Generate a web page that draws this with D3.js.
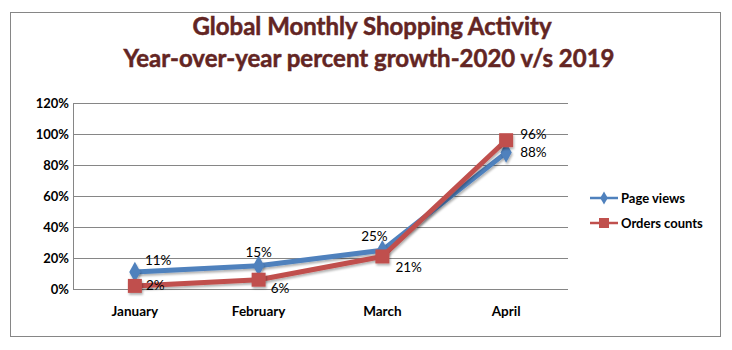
<!DOCTYPE html>
<html>
<head>
<meta charset="utf-8">
<script src="https://cdn.jsdelivr.net/npm/d3@7"></script>
<style>
  body { margin:0; background:#fff; }
  text { font-family: Lato, "Open Sans", sans-serif; }
</style>
</head>
<body>
<svg></svg>
<script>
var months = ["January","February","March","April"];
var pageViews = [11,15,25,88];
var orderCounts = [2,6,21,96];
var yTicks = [0,20,40,60,80,100,120];
var seriesNames = ["Page views","Orders counts"];

var screen = { width:732, height:350 };

var svg = d3.select("svg")
            .attr("width",screen.width)
            .attr("height",screen.height);

var defs = svg.append("defs");
var shadow = defs.append("filter").attr("id","shadow")
  .attr("x","-30%").attr("y","-30%").attr("width","160%").attr("height","160%");
shadow.append("feDropShadow")
  .attr("dx",1).attr("dy",2).attr("stdDeviation",1.2)
  .attr("flood-color","#000").attr("flood-opacity",0.3);

// outer frame
svg.append("rect")
   .attr("x",10.5).attr("y",12.5)
   .attr("width",710).attr("height",324)
   .attr("fill","#fff")
   .attr("stroke","#868686")
   .attr("stroke-width",1);

// title
var title = svg.append("g").attr("fill","#632523")
   .attr("font-weight","bold").attr("font-size",24)
   .attr("text-anchor","middle")
   .attr("stroke","#632523").attr("stroke-width",0.5);
title.append("text").attr("x",372).attr("y",35).text("Global Monthly Shopping Activity");
title.append("text").attr("x",369).attr("y",67).text("Year-over-year percent growth-2020 v/s 2019");

var margins = { top:103, left:73, right:568, bottom:289 };

var xScale = d3.scaleBand()
        .domain(months)
        .range([margins.left, margins.right]);
var yScale = d3.scaleLinear()
        .domain([0,120])
        .range([margins.bottom, margins.top]);

// gridlines
svg.append("g").selectAll("line")
   .data(yTicks)
   .enter()
   .append("line")
   .attr("x1",margins.left).attr("x2",margins.right)
   .attr("y1",function(d){return Math.round(yScale(d))+0.5;})
   .attr("y2",function(d){return Math.round(yScale(d))+0.5;})
   .attr("stroke","#868686");

svg.append("line")
   .attr("x1",margins.left+0.5).attr("x2",margins.left+0.5)
   .attr("y1",margins.top).attr("y2",margins.bottom)
   .attr("stroke","#868686");

// y axis labels
var yAxis = d3.axisLeft(yScale)
   .tickValues(yTicks)
   .tickSize(0).tickPadding(4)
   .tickFormat(function(d){return d+"%";});
var yG = svg.append("g")
   .attr("transform","translate("+margins.left+",0)")
   .call(yAxis);
yG.select(".domain").remove();
yG.selectAll("text").attr("font-size",13).attr("font-weight","bold")
   .attr("fill","#000").attr("font-family","Lato, sans-serif");

// x axis labels
var xAxis = d3.axisBottom(xScale).tickSize(0).tickPadding(17);
var xG = svg.append("g")
   .attr("transform","translate(0,"+margins.bottom+")")
   .call(xAxis);
xG.select(".domain").remove();
xG.selectAll("text").attr("font-size",13.5).attr("font-weight","bold")
   .attr("fill","#000").attr("font-family","Lato, sans-serif");

var cx = function(i){ return xScale(months[i]) + xScale.bandwidth()/2; };

var drawLine = d3.line()
   .x(function(d,i){return cx(i);})
   .y(function(d){return yScale(d);});

var diamond = d3.symbol().type(d3.symbolDiamond).size(110);

// page views
var pv = svg.append("g").attr("id","pageviews");
pv.append("path").datum(pageViews)
  .attr("d",drawLine).attr("fill","none")
  .attr("stroke","#4F81BD").attr("stroke-width",5)
  .attr("stroke-linejoin","round")
  .attr("filter","url(#shadow)");

// orders
var oc = svg.append("g").attr("id","orders");
oc.append("path").datum(orderCounts)
  .attr("d",drawLine).attr("fill","none")
  .attr("stroke","#C0504D").attr("stroke-width",5)
  .attr("stroke-linejoin","round")
  .attr("filter","url(#shadow)");

pv.selectAll(".mk").data(pageViews).enter()
  .append("path").attr("class","mk")
  .attr("d",diamond)
  .attr("transform",function(d,i){return "translate("+cx(i)+","+yScale(d)+") scale(1,1.05)";})
  .attr("fill","#4F81BD")
  .attr("filter","url(#shadow)");

oc.selectAll(".mk").data(orderCounts).enter()
  .append("rect").attr("class","mk")
  .attr("x",function(d,i){return cx(i)-7;})
  .attr("y",function(d){return yScale(d)-7;})
  .attr("width",14).attr("height",14)
  .attr("fill","#C0504D")
  .attr("filter","url(#shadow)");

// data labels
var pvOffsets = [[10,-7,"start"],[0,-9,"middle"],[-8,-9,"middle"],[14,4,"start"]];
var ocOffsets = [[11,4,"start"],[12,13,"start"],[13,16,"start"],[14,-1,"start"]];

pv.selectAll(".lbl").data(pageViews).enter()
  .append("text").attr("class","lbl")
  .attr("x",function(d,i){return cx(i)+pvOffsets[i][0];})
  .attr("y",function(d,i){return yScale(d)+pvOffsets[i][1];})
  .attr("text-anchor",function(d,i){return pvOffsets[i][2];})
  .attr("font-size",13.5).attr("fill","#000")
  .text(function(d){return d+"%";});

oc.selectAll(".lbl").data(orderCounts).enter()
  .append("text").attr("class","lbl")
  .attr("x",function(d,i){return cx(i)+ocOffsets[i][0];})
  .attr("y",function(d,i){return yScale(d)+ocOffsets[i][1];})
  .attr("text-anchor",function(d,i){return ocOffsets[i][2];})
  .attr("font-size",13.5).attr("fill","#000")
  .text(function(d){return d+"%";});

// legend
var legend = svg.append("g").attr("transform","translate(590,198)");
var legendLines = legend.selectAll("g")
   .data(seriesNames).enter()
   .append("g")
   .attr("transform",function(d,i){return "translate(0,"+(i*25)+")";});

legendLines.append("line")
   .attr("x1",0).attr("x2",28).attr("y1",0).attr("y2",0)
   .attr("stroke",function(d,i){return i==0?"#4F81BD":"#C0504D";})
   .attr("stroke-width",2.5);
legendLines.each(function(d,i){
  var g = d3.select(this);
  if(i==0){
    g.append("path").attr("d",d3.symbol().type(d3.symbolDiamond).size(50))
     .attr("transform","translate(14,0)").attr("fill","#4F81BD");
  } else {
    g.append("rect").attr("x",9).attr("y",-5).attr("width",10).attr("height",10)
     .attr("fill","#C0504D");
  }
});
legendLines.append("text")
   .attr("x",31).attr("y",4.5)
   .attr("font-size",13).attr("font-weight","bold")
   .text(function(d){return d;});
</script>
</body>
</html>
